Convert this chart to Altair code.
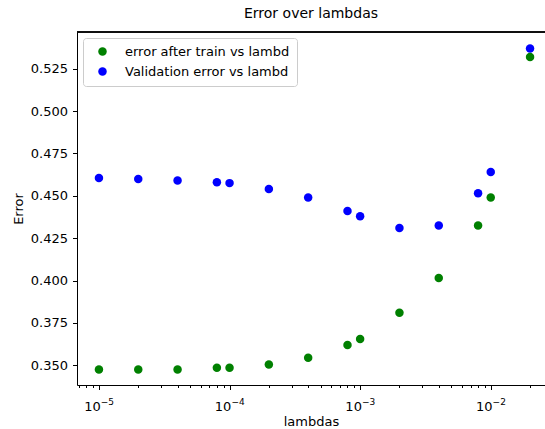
import altair as alt
import pandas as pd

lambdas = [1e-5, 2e-5, 4e-5, 8e-5, 1e-4, 2e-4, 4e-4, 8e-4, 1e-3, 2e-3, 4e-3, 8e-3, 1e-2, 2e-2]
train_err = [0.3475, 0.3475, 0.3475, 0.3485, 0.3485, 0.3505, 0.3545, 0.362, 0.3655, 0.381, 0.4015, 0.4325, 0.449, 0.532]
val_err = [0.4605, 0.460, 0.459, 0.458, 0.4575, 0.454, 0.449, 0.441, 0.438, 0.431, 0.4325, 0.4515, 0.464, 0.537]
series_names = ["error after train vs lambd", "Validation error vs lambd"]
series_colors = ["#008000", "#0000ff"]
y_ticks = [0.350, 0.375, 0.400, 0.425, 0.450, 0.475, 0.500, 0.525]

rows = []
for lam, t in zip(lambdas, train_err):
    rows.append({"lambda": lam, "error": t, "series": series_names[0], "order": 1})
for lam, v in zip(lambdas, val_err):
    rows.append({"lambda": lam, "error": v, "series": series_names[1], "order": 0})
df = pd.DataFrame(rows)

W, H = 468, 353
xmin = 10 ** -5.168
xmax = 10 ** -1.5845
x_ticks = []
major_ticks = []
for k in range(-6, 0):
    for m in range(1, 10):
        v = m * 10 ** k
        if xmin <= v <= xmax:
            x_ticks.append(v)
            if m == 1:
                major_ticks.append(v)

FONT = "DejaVu Sans"
is_major = "abs(log(datum.value)/LN10 - round(log(datum.value)/LN10)) < 0.001"
base_expr = f"({is_major}) ? '10' : ''"
exp_expr = "'\u2212' + format(-round(log(datum.value)/LN10), 'd')"

x_scale = alt.Scale(type="log", domain=[xmin, xmax], nice=False)
y_scale = alt.Scale(domain=[0.33835, 0.54669], nice=False, zero=False)

points = alt.Chart(df).mark_point(filled=True, opacity=1, size=72).encode(
    x=alt.X("lambda:Q", scale=x_scale,
            axis=alt.Axis(orient="bottom", values=x_ticks, labelExpr=base_expr, grid=False,
                          tickSize={"condition": {"test": is_major, "value": 4.5}, "value": 2.5},
                          tickColor="black", labelColor="black", labelFontSize=13,
                          labelFont=FONT, labelOffset=-7, title="lambdas", titleFont=FONT,
                          titleFontSize=13, titleFontWeight="normal", titleColor="black",
                          domain=True, domainColor="black", domainWidth=1,
                          labelPadding=11, titlePadding=2, labelFlush=False)),
    y=alt.Y("error:Q", scale=y_scale,
            axis=alt.Axis(values=y_ticks, format=".3f", grid=False, tickSize=4.5,
                          tickColor="black", labelColor="black", labelFontSize=13,
                          labelFont=FONT, title="Error", titleFont=FONT,
                          titleFontSize=13, titleFontWeight="normal", titleColor="black",
                          domain=True, domainColor="black", domainWidth=1,
                          labelPadding=5, titlePadding=5)),
    color=alt.Color("series:N",
                    scale=alt.Scale(domain=series_names, range=series_colors),
                    legend=alt.Legend(title=None, orient="none", legendX=6, legendY=6,
                                      fillColor="white", strokeColor="#cccccc",
                                      cornerRadius=3, padding=7, labelFontSize=13,
                                      labelFont=FONT, labelColor="black", labelLimit=0,
                                      symbolSize=72, symbolOffset=6, labelOffset=16,
                                      rowPadding=6, symbolStrokeWidth=0)),
    order=alt.Order("order:Q"),
)

exp_df = pd.DataFrame({"lambda": major_ticks})
exponents = alt.Chart(exp_df).mark_point(opacity=0).encode(
    x=alt.X("lambda:Q", scale=x_scale,
            axis=alt.Axis(orient="bottom", values=major_ticks, labelExpr=exp_expr, grid=False,
                          ticks=False, domain=False, labelColor="black", labelFontSize=9,
                          labelFont=FONT, labelOffset=8, labelPadding=12, title=None,
                          labelFlush=False)),
    y=alt.value(0),
)

top_spine = alt.Chart(exp_df).mark_rule(color="black", strokeWidth=1).encode(
    x=alt.value(0), x2=alt.value(W), y=alt.value(0)
)

chart = alt.layer(points, exponents, top_spine).resolve_axis(x="independent").properties(
    width=W, height=H,
    title=alt.TitleParams("Error over lambdas", font=FONT, fontSize=14,
                          fontWeight="normal", color="black", anchor="middle", offset=8),
    autosize=alt.AutoSizeParams(type="none"),
    padding={"left": 77, "top": 32, "right": 0, "bottom": 44},
).configure_view(stroke=None)

chart.save("out.html", embed_options={"renderer": "svg", "actions": False})
